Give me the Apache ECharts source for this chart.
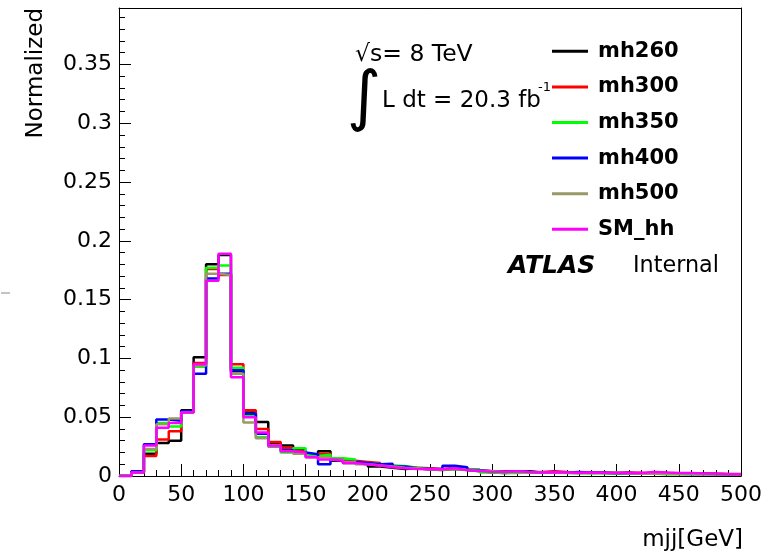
<!DOCTYPE html>
<html>
<head>
<meta charset="utf-8">
<script src="https://cdn.jsdelivr.net/npm/echarts@6/dist/echarts.min.js"></script>
<style>
html,body{margin:0;padding:0;background:#fff;}
#chart{width:769px;height:556px;}
</style>
</head>
<body>
<div id="chart"></div>
<script>
const binLow = [0,10,20,30,40,50,60,70,80,90,100,110,120,130,140,150,160,170,180,190,200,210,220,230,240,250,260,270,280,290,300,310,320,330,340,350,360,370,380,390,400,410,420,430,440,450,460,470,480,490];
const xMax = 500;
const yMax = 0.398;
const xTickLabels = ['0','50','100','150','200','250','300','350','400','450','500'];
const yTickLabels = ['0','0.05','0.1','0.15','0.2','0.25','0.3','0.35'];
const seriesNames = ['mh260','mh300','mh350','mh400','mh500','SM_hh'];
const seriesColors = ['#000000','#ff0000','#00ff00','#0000ff','#999966','#ff00ff'];
const mh260 = [0.000,0.003,0.019,0.028,0.030,0.056,0.101,0.180,0.188,0.089,0.054,0.046,0.028,0.026,0.022,0.017,0.021,0.013,0.011,0.010,0.008,0.007,0.006,0.0065,0.0055,0.005,0.006,0.005,0.004,0.003,0.0025,0.003,0.004,0.003,0.003,0.0028,0.0025,0.003,0.0025,0.0022,0.0025,0.002,0.003,0.0025,0.002,0.0022,0.002,0.0018,0.0015,0.0014];
const mh300 = [0.000,0.004,0.017,0.031,0.038,0.055,0.096,0.176,0.171,0.095,0.056,0.040,0.029,0.024,0.021,0.017,0.019,0.015,0.013,0.012,0.011,0.009,0.0075,0.007,0.0065,0.006,0.007,0.006,0.005,0.004,0.004,0.0035,0.003,0.0035,0.004,0.0035,0.0032,0.003,0.003,0.0028,0.003,0.0027,0.0025,0.0025,0.0023,0.0022,0.002,0.002,0.0018,0.0016];
const mh350 = [0.000,0.003,0.022,0.045,0.042,0.054,0.093,0.177,0.179,0.092,0.052,0.033,0.026,0.020,0.0235,0.017,0.018,0.015,0.014,0.011,0.010,0.009,0.0085,0.007,0.006,0.0055,0.006,0.006,0.0055,0.003,0.0025,0.0025,0.003,0.003,0.0028,0.0025,0.0025,0.0022,0.0025,0.002,0.002,0.002,0.0022,0.0015,0.0015,0.0018,0.0015,0.0015,0.0013,0.0012];
const mh400 = [0.000,0.004,0.027,0.048,0.047,0.055,0.087,0.168,0.172,0.090,0.053,0.036,0.025,0.022,0.020,0.0185,0.010,0.014,0.012,0.011,0.010,0.0105,0.008,0.0065,0.006,0.006,0.0087,0.0075,0.005,0.004,0.0035,0.004,0.0035,0.003,0.0035,0.003,0.0035,0.003,0.003,0.0025,0.0025,0.0022,0.002,0.002,0.002,0.0018,0.0018,0.0016,0.0015,0.0014];
const mh500 = [0.000,0.003,0.023,0.044,0.049,0.054,0.094,0.172,0.171,0.087,0.0455,0.032,0.025,0.021,0.019,0.016,0.016,0.014,0.012,0.010,0.009,0.008,0.007,0.0065,0.0055,0.0055,0.006,0.005,0.0045,0.004,0.0035,0.0032,0.003,0.003,0.0028,0.0028,0.0025,0.0025,0.0025,0.003,0.0022,0.002,0.002,0.0018,0.0018,0.0016,0.0015,0.0015,0.0014,0.0013];
const SM_hh = [0.000,0.003,0.026,0.041,0.045,0.054,0.095,0.166,0.189,0.084,0.050,0.037,0.026,0.021,0.020,0.016,0.014,0.013,0.011,0.010,0.009,0.0075,0.0065,0.006,0.0058,0.0057,0.0065,0.005,0.0042,0.0037,0.0035,0.004,0.0035,0.003,0.0032,0.003,0.0028,0.003,0.0027,0.0026,0.0025,0.0026,0.0035,0.003,0.0026,0.0025,0.0022,0.002,0.0017,0.0015];
const seriesValues = [mh260, mh300, mh350, mh400, mh500, SM_hh];
const FONT = 'DejaVu Sans';

function histData(vals){
  const d = binLow.map((x,i)=>[x, vals[i]]);
  d.push([xMax, vals[vals.length-1]]);
  return d;
}
function yLabel(v){ for (const t of yTickLabels){ if (Math.abs(parseFloat(t)-v)<1e-6) return t; } return ''; }
function xLabel(v){ for (const t of xTickLabels){ if (Math.abs(parseFloat(t)-v)<1e-6) return t; } return ''; }

const chart = echarts.init(document.getElementById('chart'));

const frame = {left:119, right:28, top:8, bottom:80};
const MAJOR = 12, MINOR = 6;

// main grid: frame lines + labels
const grids = [Object.assign({}, frame)];
const xAxes = [
  {type:'value', gridIndex:0, position:'bottom', min:0, max:xMax, interval:50,
   splitLine:{show:false}, axisTick:{show:false}, minorTick:{show:false},
   axisLine:{show:true, onZero:false, lineStyle:{color:'#000', width:1}},
   axisLabel:{show:true, margin:8, color:'#000', fontFamily:FONT, fontSize:22, formatter:xLabel}},
  {type:'value', gridIndex:0, position:'top', min:0, max:xMax, interval:50,
   splitLine:{show:false}, axisTick:{show:false}, minorTick:{show:false},
   axisLine:{show:true, onZero:false, lineStyle:{color:'#000', width:1}},
   axisLabel:{show:false}}
];
const yAxes = [
  {type:'value', gridIndex:0, position:'left', min:0, max:yMax, interval:0.05,
   splitLine:{show:false}, axisTick:{show:false}, minorTick:{show:false},
   axisLine:{show:true, onZero:false, lineStyle:{color:'#000', width:1}},
   axisLabel:{show:true, margin:7, color:'#000', fontFamily:FONT, fontSize:22, formatter:yLabel}},
  {type:'value', gridIndex:0, position:'right', min:0, max:yMax, interval:0.05,
   splitLine:{show:false}, axisTick:{show:false}, minorTick:{show:false},
   axisLine:{show:true, onZero:false, lineStyle:{color:'#000', width:1}},
   axisLabel:{show:false}}
];

// Tick-only grids: each one is inset by the tick length so that its
// outward ticks fall inside the frame (ROOT-style inward ticks).
function addTickGrid(side, kind){
  const len = kind === 'major' ? MAJOR : MINOR;
  const g = Object.assign({}, frame);
  g[side] = frame[side] + len;
  const gi = grids.length;
  grids.push(g);
  const tickAxis = {
    type:'value', gridIndex:gi, position:side, min:0,
    splitLine:{show:false}, axisLine:{show:false}, axisLabel:{show:false},
    axisTick: kind === 'major' ? {show:true, inside:false, length:MAJOR, lineStyle:{color:'#000', width:1}} : {show:false},
    minorTick: kind === 'minor' ? {show:true, splitNumber:5, length:MINOR, lineStyle:{color:'#000', width:1}} : {show:false}
  };
  const hidden = {type:'value', gridIndex:gi, min:0, max:1, show:false};
  if (side === 'left' || side === 'right'){
    tickAxis.max = yMax; tickAxis.interval = 0.05;
    yAxes.push(tickAxis);
    xAxes.push(hidden);
  } else {
    tickAxis.max = xMax; tickAxis.interval = 50;
    xAxes.push(tickAxis);
    yAxes.push(hidden);
  }
}
['left','right','bottom','top'].forEach(s=>{ addTickGrid(s,'major'); addTickGrid(s,'minor'); });

const option = {
  animation:false,
  grid:grids,
  xAxis:xAxes,
  yAxis:yAxes,
  legend:{
    show:true, orient:'vertical', left:552, top:39.3, padding:0,
    icon:'rect', itemWidth:36, itemHeight:3, itemGap:11.6,
    data:seriesNames,
    textStyle:{fontFamily:FONT, fontWeight:'bold', fontSize:21, color:'#000', lineHeight:24, padding:[0,0,0,5]}
  },
  series: seriesNames.map((n,i)=>({
    name:n, type:'line', step:'end', symbol:'none',
    xAxisIndex:0, yAxisIndex:0,
    color:seriesColors[i],
    lineStyle:{color:seriesColors[i], width:2.5},
    itemStyle:{color:seriesColors[i]},
    data:histData(seriesValues[i])
  })),
  graphic:[
    {type:'text', x:355, y:55, style:{text:'√s= 8 TeV', fontFamily:FONT, fontSize:23.5, fill:'#000', verticalAlign:'middle'}},
    {type:'text', x:364, y:101, style:{text:'∫', fontFamily:FONT, fontSize:66, fill:'#000', align:'center', verticalAlign:'middle'}},
    {type:'text', x:382, y:101, style:{text:'L dt = 20.3 fb', fontFamily:FONT, fontSize:23, fill:'#000', verticalAlign:'middle'}},
    {type:'text', x:538, y:88, style:{text:'-1', fontFamily:FONT, fontSize:13, fill:'#000', verticalAlign:'middle'}},
    {type:'text', x:508, y:266, style:{text:'ATLAS', fontFamily:FONT, fontSize:25, fontWeight:'bold', fontStyle:'italic', fill:'#000', verticalAlign:'middle'}},
    {type:'text', x:633, y:266, style:{text:'Internal', fontFamily:FONT, fontSize:22.3, fill:'#000', verticalAlign:'middle'}},
    {type:'text', x:36, y:8, rotation:Math.PI/2, style:{text:'Normalized', fontFamily:FONT, fontSize:23, fill:'#000', align:'right', verticalAlign:'middle'}},
    {type:'text', x:743, y:540, style:{text:'mjj[GeV]', fontFamily:FONT, fontSize:23, fill:'#000', align:'right', verticalAlign:'middle'}},
    {type:'line', shape:{x1:1, y1:293, x2:10, y2:293}, style:{stroke:'#888', lineWidth:1}}
  ]
};
chart.setOption(option);
</script>
</body>
</html>
